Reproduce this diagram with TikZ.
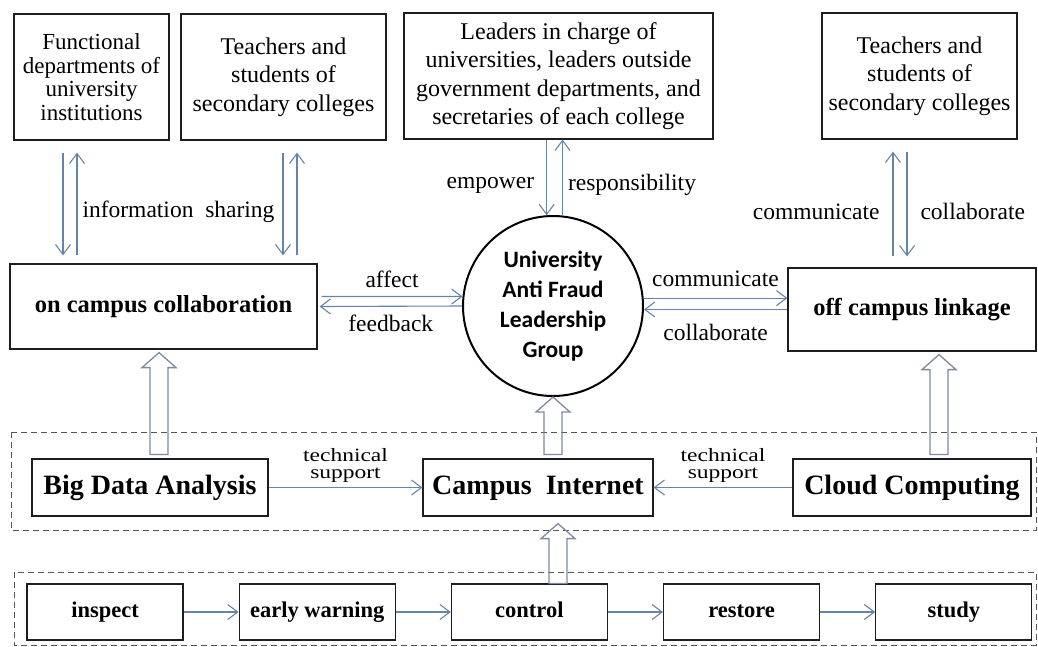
\documentclass[tikz,border=0pt]{standalone}
\usepackage{fontspec}
\setmainfont{Liberation Serif}
\newfontfamily\groupfont{Carlito}
\usetikzlibrary{arrows.meta, positioning, calc}

\definecolor{linkcolor}{RGB}{100,132,168}
\definecolor{hollowcolor}{RGB}{125,138,160}
\definecolor{boxline}{RGB}{30,30,30}
\definecolor{dashcolor}{RGB}{85,85,85}

% wide hollow arrow pointing up, from #1 (foot) to #2 (tip)
\newcommand{\hollowup}[2]{%
  \draw[hollow] ($#1+(-9,0)$) -- ($#2+(-9,15)$) -- ($#2+(-17,15)$) -- #2
    -- ($#2+(17,15)$) -- ($#2+(9,15)$) -- ($#1+(9,0)$) -- cycle;}
\newcommand{\squash}[1]{\scalebox{1}[0.8]{\shortstack{#1}}}

\begin{document}
\begin{tikzpicture}[x=1pt, y=-1pt,
    box/.style={rectangle, draw=boxline, line width=1.2pt, inner sep=0pt, align=center, font=\fontsize{24}{28.5}\selectfont},
    keybox/.style={box, font=\fontsize{24.5}{28}\selectfont\bfseries, text height=17pt, text depth=5pt},
    techbox/.style={box, font=\fontsize{28}{30}\selectfont\bfseries, minimum height=57pt, text height=19pt, text depth=6pt},
    stage/.style={box, font=\fontsize{22.5}{26}\selectfont\bfseries, minimum width=156pt, minimum height=56pt, text height=16pt, text depth=5pt},
    leadcircle/.style={circle, draw=black, line width=2pt, inner sep=0pt, minimum size=180pt, align=center, font=\groupfont\bfseries\fontsize{23.5}{30}\selectfont},
    lbl/.style={font=\fontsize{23.5}{26}\selectfont, inner sep=2pt},
    link/.style={-{Straight Barb[length=10pt, width=15pt]}, draw=linkcolor, line width=1.1pt},
    hollow/.style={draw=hollowcolor, line width=1.3pt, line join=miter},
    zone/.style={draw=dashcolor, line width=1pt, dash pattern=on 6pt off 4pt}]

    \useasboundingbox (0,0) rectangle (1038,646);

    % Top row
    \node[box, minimum width=155pt, minimum height=126pt, font=\fontsize{23}{23.5}\selectfont] (funcdep) at (91.5,77) {Functional\\departments of\\university\\institutions};
    \node[box, minimum width=205pt, minimum height=126pt] (teach1) at (283.5,77) {Teachers and\\students of\\secondary colleges};
    \node[box, minimum width=309pt, minimum height=126pt] (leaders) at (558.5,76) {Leaders in charge of\\universities, leaders outside\\government departments, and\\secretaries of each college};
    \node[box, minimum width=195pt, minimum height=126pt] (teach2) at (919.5,76) {Teachers and\\students of\\secondary colleges};

    % Middle row
    \node[keybox, minimum width=307pt, minimum height=85pt] (oncampus) at (163.5,306.5) {on campus collaboration};
    \node[leadcircle] (group) at (553,306) {University\\Anti Fraud\\Leadership\\Group};
    \node[keybox, minimum width=248pt, minimum height=83pt] (offcampus) at (912,309.5) {off campus linkage};

    % Technology layer
    \draw[zone] (11,432) rectangle (1036,530);
    \node[techbox, minimum width=236pt] (bigdata) at (150,487.5) {Big Data Analysis};
    \node[techbox, minimum width=230pt] (campus) at (538,487.5) {Campus\ \ Internet};
    \node[techbox, minimum width=238pt] (cloud) at (912,487.5) {Cloud Computing};

    % Process layer
    \draw[zone] (14,572) rectangle (1036,645);
    \node[stage] (inspect) at (105,612) {inspect};
    \node[stage, right=55pt of inspect] (warning) {early warning};
    \node[stage, right=55pt of warning] (control) {control};
    \node[stage, right=55pt of control] (restore) {restore};
    \node[stage, right=55pt of restore] (study) {study};

    % Links to the top row
    \draw[link] ($(funcdep.south)+(-28.5,12)$) -- ($(funcdep.south |- oncampus.north)+(-28.5,-8)$);
    \draw[link] ($(funcdep.south |- oncampus.north)+(-14.5,-8)$) -- node[lbl, right=3pt, pos=0.42] (share) {information~~sharing} ($(funcdep.south)+(-14.5,12)$);
    \draw[link] ($(teach1.south)+(-0.5,12)$) -- ($(teach1.south |- oncampus.north)+(-0.5,-8)$);
    \draw[link] ($(teach1.south |- oncampus.north)+(13.5,-8)$) -- ($(teach1.south)+(13.5,12)$);
    \draw[link] (group.94 |- leaders.south) -- node[lbl, left=10pt, pos=0.6] (empower) {empower} (group.94);
    \draw[link] (group.84) -- node[lbl, right=3pt, pos=0.4] (respons) {responsibility} (group.84 |- leaders.south);
    \draw[link] ($(teach2.south |- offcampus.north)+(-26.5,-11)$) -- node[lbl, left=11pt, pos=0.43] (commup) {communicate} ($(teach2.south)+(-26.5,12)$);
    \draw[link] ($(teach2.south)+(-12.5,12)$) -- node[lbl, right=11pt, pos=0.57] (collabup) {collaborate} ($(teach2.south |- offcampus.north)+(-12.5,-11)$);

    % Links around the group
    \draw[link] ($(oncampus.east)+(4,-10)$) -- node[lbl, above=6pt] (affect) {affect} (group.174);
    \draw[link] (group.west) -- node[lbl, below=6pt] (feedback) {feedback} ($(oncampus.east)+(2,0)$);
    \draw[link] (group.5) -- node[lbl, above=9pt] (commright) {communicate} (offcampus.west |- group.5);
    \draw[link] (offcampus.west) -- node[lbl, below=12pt] (collabright) {collaborate} (offcampus.west -| group.-2);

    % Technical support
    \draw[link] (bigdata) -- node[lbl, above=2pt] (techleft) {\squash{technical\\[5pt]support}} (campus);
    \draw[link] (cloud) -- node[lbl, above=2pt] (techright) {\squash{technical\\[5pt]support}} (campus);

    % Process chain
    \draw[link] (inspect) -- (warning);
    \draw[link] (warning) -- (control);
    \draw[link] (control) -- (restore);
    \draw[link] (restore) -- (study);

    % Wide arrows
    \coordinate (bdtip) at ($(oncampus.south)+(-4.5,3)$);
    \coordinate (bdfoot) at ($(bdtip |- bigdata.north)+(0,-4)$);
    \coordinate (citip) at (group.south);
    \coordinate (cifoot) at ($(group.south |- campus.north)+(0,-4)$);
    \coordinate (cctip) at ($(offcampus.south)+(27,3)$);
    \coordinate (ccfoot) at ($(cctip |- cloud.north)+(0,-4)$);
    \coordinate (cttip) at ($(campus.south)+(20,7)$);
    \coordinate (ctfoot) at (cttip |- control.north);
    \hollowup{(bdfoot)}{(bdtip)}
    \hollowup{(cifoot)}{(citip)}
    \hollowup{(ccfoot)}{(cctip)}
    \hollowup{(ctfoot)}{(cttip)}

\end{tikzpicture}
\end{document}
